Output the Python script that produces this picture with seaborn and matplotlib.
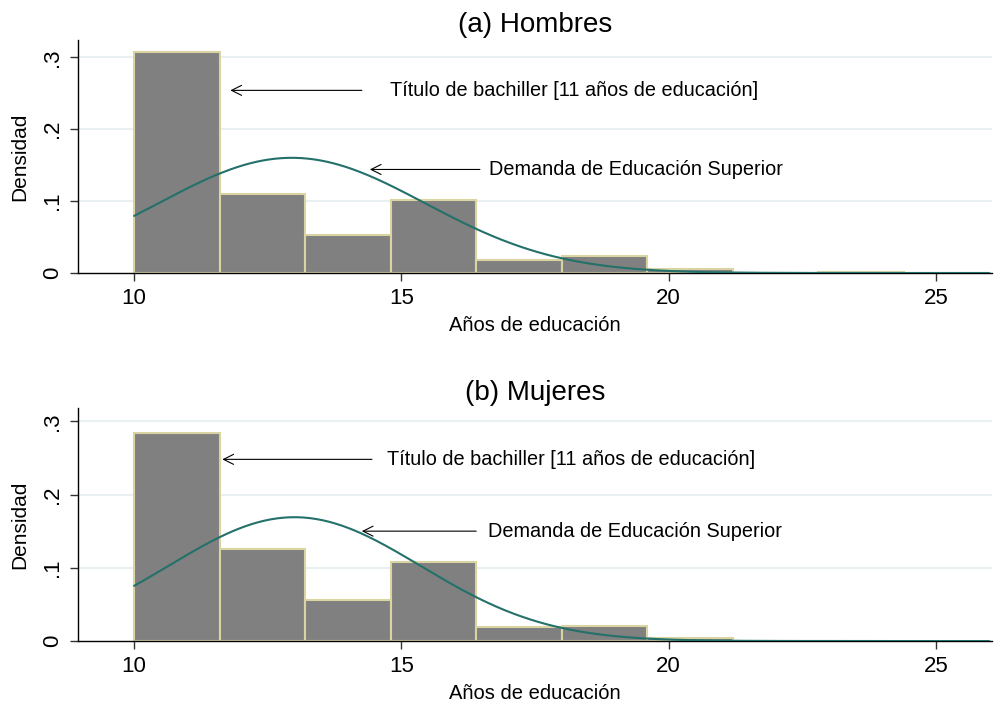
import numpy as np
import pandas as pd
import matplotlib
matplotlib.use("Agg")
import matplotlib.pyplot as plt
from matplotlib.ticker import FuncFormatter
import seaborn as sns

# Histogram bins (years of education), width 1.6 starting at 10
bin_edges = [10.0, 11.6, 13.2, 14.8, 16.4, 18.0, 19.6, 21.2, 22.8, 24.4, 26.0]

# Density per bin
dens_hombres = [0.307, 0.110, 0.053, 0.102, 0.018, 0.0235, 0.006, 0.0006, 0.0012, 0.0005]
dens_mujeres = [0.284, 0.125, 0.056, 0.108, 0.019, 0.021, 0.004, 0.0005, 0.0005, 0.0005]

# Fitted normal curve parameters
mu_hombres, sd_hombres = 12.95, 2.49
mu_mujeres, sd_mujeres = 13.0, 2.36

titles = ["(a) Hombres", "(b) Mujeres"]
x_ticks = [10, 15, 20, 25]
y_ticks = [0, 0.1, 0.2, 0.3]
xlabel = "Años de educación"
ylabel = "Densidad"
note_bach = "Título de bachiller [11 años de educación]"
note_dem = "Demanda de Educación Superior"

sns.set_theme(style="white")
plt.rcParams["font.family"] = ["Liberation Sans", "DejaVu Sans"]
plt.rcParams.update({"text.color": "black", "axes.labelcolor": "black",
                     "xtick.color": "black", "ytick.color": "black"})

fig = plt.figure(figsize=(9.96, 7.06), dpi=100)
ax_top = fig.add_axes([0.0783, 0.6133, 0.9177, 0.330])
ax_bot = fig.add_axes([0.0783, 0.0920, 0.9177, 0.330])

panels = [
    (ax_top, dens_hombres, mu_hombres, sd_hombres, titles[0], 0.324,
     (11.8, 0.254), (14.26, 0.254), (14.79, 0.254),
     (14.41, 0.144), (16.47, 0.144), (16.64, 0.144)),
    (ax_bot, dens_mujeres, mu_mujeres, sd_mujeres, titles[1], 0.318,
     (11.65, 0.248), (14.45, 0.248), (14.73, 0.248),
     (14.26, 0.150), (16.40, 0.150), (16.62, 0.150)),
]

bar_fill = "#808080"
bar_edge = "#d9d4a2"
curve_col = "#23716a"
grid_col = "#e8f0f2"

for (ax, dens, mu, sd, title, ytop, bh, bt, btxt, dh, dt, dtxt) in panels:
    edges = np.array(bin_edges)
    centers = (edges[:-1] + edges[1:]) / 2
    df = pd.DataFrame({"anios": centers, "dens": dens})

    for yv in y_ticks[1:]:
        ax.axhline(yv, color=grid_col, lw=1.5, zorder=0)

    sns.histplot(data=df, x="anios", weights="dens", bins=list(bin_edges),
                 stat="count", color=bar_fill, edgecolor=bar_edge,
                 linewidth=1.5, alpha=1, ax=ax, zorder=2)

    xs = np.linspace(edges[0], edges[-1], 400)
    pdf = np.exp(-0.5 * ((xs - mu) / sd) ** 2) / (sd * np.sqrt(2 * np.pi))
    sns.lineplot(x=xs, y=pdf, color=curve_col, lw=1.5, ax=ax, zorder=3)

    ax.set_xlim(8.95, 26.05)
    ax.set_ylim(0, ytop)
    ax.set_xticks(x_ticks)
    ax.set_yticks(y_ticks)
    ax.yaxis.set_major_formatter(
        FuncFormatter(lambda v, p: "0" if v == 0 else f"{v:.1f}".lstrip("0")))
    ax.tick_params(axis="both", direction="out", length=6, width=1,
                   color="#333333", labelsize=16, pad=5, left=True, bottom=True)
    for lab in ax.get_yticklabels():
        lab.set_rotation(90)
        lab.set_va("center")
    for side in ["top", "right"]:
        ax.spines[side].set_visible(False)
    for side in ["left", "bottom"]:
        ax.spines[side].set_color("black")
        ax.spines[side].set_linewidth(1.0)

    ax.set_xlabel(xlabel, fontsize=14.5, labelpad=5)
    ax.set_ylabel(ylabel, fontsize=15, labelpad=9)
    ax.set_title(title, fontsize=20, pad=6)

    arrow = dict(arrowstyle="->,head_length=0.6,head_width=0.3",
                 color="black", lw=0.8, shrinkA=0, shrinkB=0)
    ax.annotate("", xy=bh, xytext=bt, arrowprops=arrow, zorder=4)
    ax.text(btxt[0], btxt[1], note_bach, fontsize=14.3, va="center", ha="left")
    ax.annotate("", xy=dh, xytext=dt, arrowprops=arrow, zorder=4)
    ax.text(dtxt[0], dtxt[1], note_dem, fontsize=14.3, va="center", ha="left")

fig.savefig("out.png", dpi=100)
